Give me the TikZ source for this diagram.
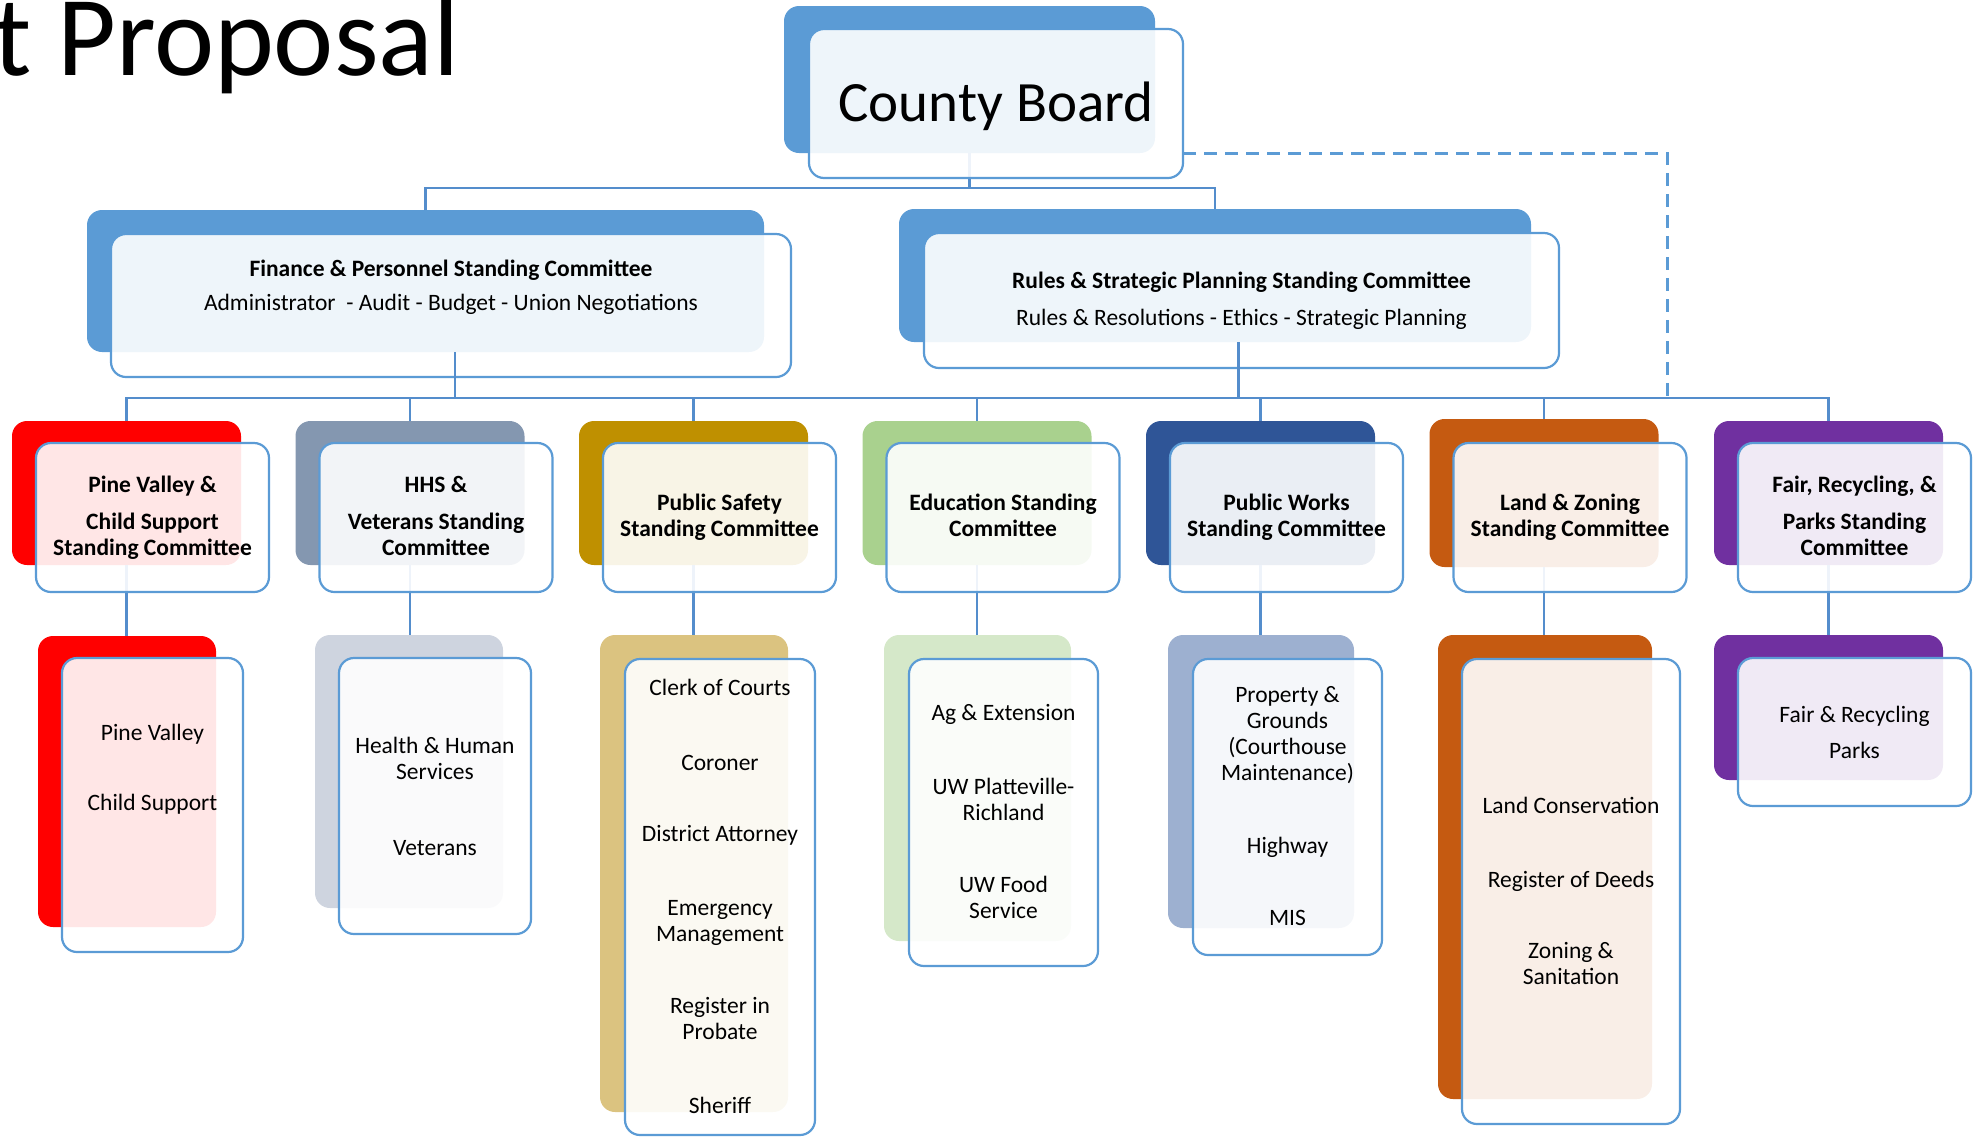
\documentclass[tikz,border=0pt]{standalone}
\usepackage{fontspec}
\setmainfont{Carlito}
\definecolor{accent}{RGB}{91,155,213}
\definecolor{linkblue}{RGB}{84,141,204}
\definecolor{pvred}{RGB}{255,0,0}
\definecolor{hhsgray}{RGB}{132,151,176}
\definecolor{hhslight}{RGB}{206,212,223}
\definecolor{psgold}{RGB}{191,144,0}
\definecolor{pslight}{RGB}{219,195,128}
\definecolor{edugreen}{RGB}{169,209,142}
\definecolor{edulight}{RGB}{213,232,201}
\definecolor{pwnavy}{RGB}{47,85,151}
\definecolor{pwlight}{RGB}{157,176,208}
\definecolor{lzorange}{RGB}{197,90,17}
\definecolor{fairpurple}{RGB}{112,48,160}

\begin{document}
\begin{tikzpicture}[x=1pt, y=-1pt,
  back/.style={rounded corners=15pt, inner sep=0pt, outer sep=0pt},
  front/.style={rounded corners=15pt, draw=accent, line width=2.2pt, fill=white, fill opacity=0.9, draw opacity=1, inner sep=0pt, outer sep=0pt},
  link/.style={draw=linkblue, line width=2.2pt},
  boxtext/.style={anchor=base, inner sep=0pt, align=center, font=\fontsize{23.5}{26}\selectfont},
  headtext/.style={boxtext, font=\fontsize{23.5}{26}\selectfont\bfseries}]

\useasboundingbox (0,0) rectangle (1978,1136);

% Slide title, cut at the left
\node[anchor=base west, inner sep=0pt, font=\fontsize{114}{128}\selectfont] (title) at (-7,75) {t Proposal};

% Back boxes: board and top committees
\node[back, fill=accent, minimum width=371pt, minimum height=147pt] (cbD) at (969.5,79.5) {};
\node[back, fill=accent, minimum width=677pt, minimum height=142pt] (finD) at (425.5,281) {};
\node[back, fill=accent, minimum width=632pt, minimum height=133pt] (rulesD) at (1215,275.5) {};

% Back boxes: standing committees
\node[back, fill=pvred, minimum width=229pt, minimum height=144pt] (pvD) at (126.5,493) {};
\node[back, fill=hhsgray, minimum width=229pt, minimum height=144pt] (hhsD) at (410,493) {};
\node[back, fill=psgold, minimum width=229pt, minimum height=144pt] (psD) at (693.5,493) {};
\node[back, fill=edugreen, minimum width=229pt, minimum height=144pt] (eduD) at (977,493) {};
\node[back, fill=pwnavy, minimum width=229pt, minimum height=144pt] (pwD) at (1260.5,493) {};
\node[back, fill=lzorange, minimum width=229pt, minimum height=148pt] (lzD) at (1544,493) {};
\node[back, fill=fairpurple, minimum width=229pt, minimum height=144pt] (fairD) at (1828.5,493) {};

% Back boxes: departments
\node[back, fill=pvred, minimum width=178pt, minimum height=291pt] (pvSubD) at (127,781.5) {};
\node[back, fill=hhslight, minimum width=188pt, minimum height=273pt] (hhsSubD) at (409,771.5) {};
\node[back, fill=pslight, minimum width=188pt, minimum height=477pt] (psSubD) at (694,873.5) {};
\node[back, fill=edulight, minimum width=187pt, minimum height=306pt] (eduSubD) at (977.5,788) {};
\node[back, fill=pwlight, minimum width=186pt, minimum height=293pt] (pwSubD) at (1261,781.5) {};
\node[back, fill=lzorange, minimum width=214pt, minimum height=464pt] (lzSubD) at (1545,867) {};
\node[back, fill=fairpurple, minimum width=229pt, minimum height=145pt] (fairSubD) at (1828.5,707.5) {};

% Connectors
\coordinate (top) at (0,188);
\coordinate (bus) at (0,398);
\draw[link] (cbD.south) -- (cbD.south |- top);
\draw[link] (finD.north) |- (rulesD.north |- top) -- (rulesD.north);
\draw[link] (pvD.north) -- (pvD.north |- bus) -- (fairD.north |- bus) -- (fairD.north);
\foreach \n in {hhs,ps,edu,pw,lz}
  \draw[link] (\n D.north) -- (\n D.north |- bus);
\foreach \n in {pv,hhs,ps,edu,pw,lz,fair}
  \draw[link] (\n D.south) -- (\n D.south |- \n SubD.north);

% Front boxes
\node[front, minimum width=374pt, minimum height=149pt] (cbL) at (996,103.5) {};
\node[front, minimum width=680pt, minimum height=143pt] (finL) at (451,305.5) {};
\node[front, minimum width=635pt, minimum height=135pt] (rulesL) at (1241.5,300.5) {};
\foreach \n/\x in {pv/152.5,hhs/436,ps/719.5,edu/1003,pw/1286.5,lz/1570,fair/1854.5}
  \node[front, minimum width=233pt, minimum height=149pt] (\n L) at (\x,517.5) {};
\node[front, minimum width=181pt, minimum height=294pt] (pvSubL) at (152.5,805) {};
\node[front, minimum width=192pt, minimum height=276pt] (hhsSubL) at (435,796) {};
\node[front, minimum width=190pt, minimum height=476pt] (psSubL) at (720,897) {};
\node[front, minimum width=189pt, minimum height=307pt] (eduSubL) at (1003.5,812.5) {};
\node[front, minimum width=189pt, minimum height=296pt] (pwSubL) at (1287.5,807) {};
\node[front, minimum width=218pt, minimum height=465pt] (lzSubL) at (1571,891.5) {};
\node[front, minimum width=233pt, minimum height=148pt] (fairSubL) at (1854.5,732) {};

% Links below the top committees, dashed link to the board
\draw[link] ([xshift=4pt]finD.south -| finL.south) -- ([xshift=4pt]finL.south |- bus);
\draw[link] ([xshift=-3pt]rulesD.south -| rulesL.south) -- ([xshift=-3pt]rulesL.south |- bus);
\coordinate (dashend) at (1667,398);
\draw[link, draw=accent, line width=3pt, dash pattern=on 13pt off 8pt] (cbL.east |- cbD.south) -| (dashend);

% Texts (placed at the baseline of their last line)
\node[anchor=base, inner sep=0pt, font=\fontsize{57}{68}\selectfont] (cbT) at (996,121) {County Board};
\node[boxtext] (finT) at (451,310) {{\bfseries Finance \& Personnel Standing Committee}\\[8pt]Administrator\ \ - Audit - Budget - Union Negotiations};
\node[boxtext] (rulesT) at (1241.5,325) {{\bfseries Rules \& Strategic Planning Standing Committee}\\[11pt]Rules \& Resolutions - Ethics - Strategic Planning};

\node[headtext] (pvT) at (152.5,555) {Pine Valley \&\\[11pt]Child Support\\Standing Committee};
\node[headtext] (hhsT) at (436,555) {HHS \&\\[11pt]Veterans Standing\\Committee};
\node[headtext] (psT) at (719.5,536) {Public Safety\\Standing Committee};
\node[headtext] (eduT) at (1003,536) {Education Standing\\Committee};
\node[headtext] (pwT) at (1286.5,536) {Public Works\\Standing Committee};
\node[headtext] (lzT) at (1570,536) {Land \& Zoning\\Standing Committee};
\node[headtext] (fairT) at (1854.5,555) {Fair, Recycling, \&\\[11pt]Parks Standing\\Committee};

\node[boxtext] (pvSubT) at (152.5,810) {Pine Valley\\[44pt]Child Support};
\node[boxtext] (hhsSubT) at (435,855) {Health \& Human\\Services\\[50pt]Veterans};
\node[boxtext] (psSubT) at (720,1113) {Clerk of Courts\\[49pt]Coroner\\[45pt]District Attorney\\[48pt]Emergency\\Management\\[46pt]Register in\\Probate\\[48pt]Sheriff};
\node[boxtext] (eduSubT) at (1003.5,918) {Ag \& Extension\\[48pt]UW Platteville-\\Richland\\[46pt]UW Food\\Service};
\node[boxtext] (pwSubT) at (1287.5,925) {Property \&\\Grounds\\(Courthouse\\Maintenance)\\[47pt]Highway\\[46pt]MIS};
\node[boxtext] (lzSubT) at (1571,984) {Land Conservation\\[48pt]Register of Deeds\\[45pt]Zoning \&\\Sanitation};
\node[boxtext] (fairSubT) at (1854.5,758) {Fair \& Recycling\\[10pt]Parks};

\end{tikzpicture}
\end{document}
